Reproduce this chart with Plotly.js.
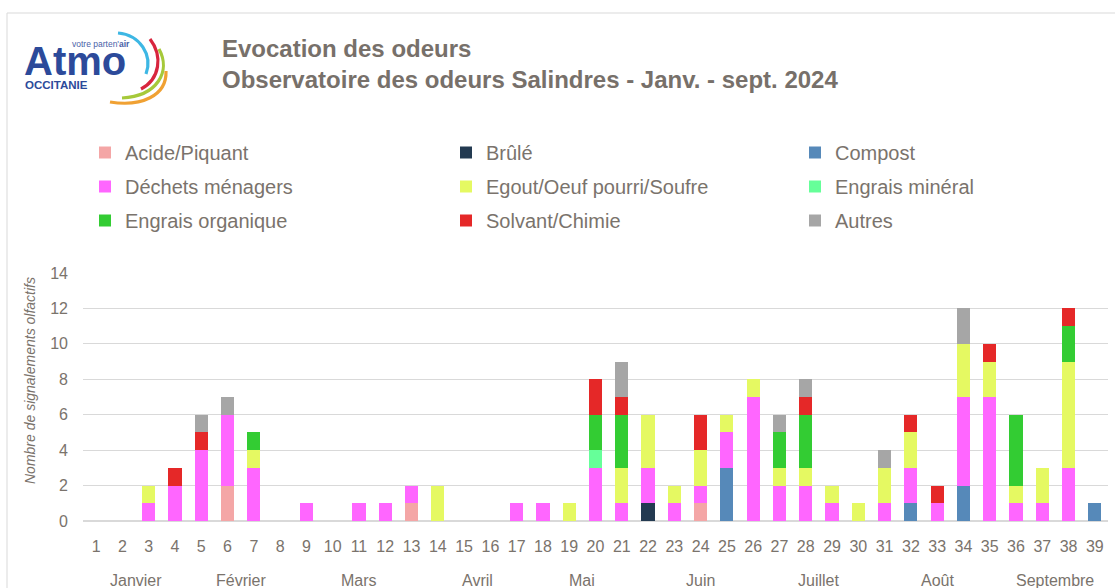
<!DOCTYPE html>
<html>
<head>
<meta charset="utf-8">
<script src="https://cdn.plot.ly/plotly-3.0.1.min.js"></script>
<style>html,body{margin:0;padding:0;background:#fff;}#chart{width:1115px;height:588px;}</style>
</head>
<body>
<div id="chart"></div>
<script>
// ---- Data ----
const weeks = ['1','2','3','4','5','6','7','8','9','10','11','12','13','14','15','16','17','18','19','20','21','22','23','24','25','26','27','28','29','30','31','32','33','34','35','36','37','38','39'];
const weekMonth = ['Janvier','Janvier','Janvier','Janvier','Février','Février','Février','Février','Mars','Mars','Mars','Mars','Mars','Avril','Avril','Avril','Avril','Mai','Mai','Mai','Mai','Juin','Juin','Juin','Juin','Juin','Juillet','Juillet','Juillet','Juillet','Août','Août','Août','Août','Août','Septembre','Septembre','Septembre','Septembre'];

const acide    = [0,0,0,0,0,2,0,0,0,0,0,0,1,0,0,0,0,0,0,0,0,0,0,1,0,0,0,0,0,0,0,0,0,0,0,0,0,0,0];
const brule    = [0,0,0,0,0,0,0,0,0,0,0,0,0,0,0,0,0,0,0,0,0,1,0,0,0,0,0,0,0,0,0,0,0,0,0,0,0,0,0];
const compost  = [0,0,0,0,0,0,0,0,0,0,0,0,0,0,0,0,0,0,0,0,0,0,0,0,3,0,0,0,0,0,0,1,0,2,0,0,0,0,1];
const dechets  = [0,0,1,2,4,4,3,0,1,0,1,1,1,0,0,0,1,1,0,3,1,2,1,1,2,7,2,2,1,0,1,2,1,5,7,1,1,3,0];
const egout    = [0,0,1,0,0,0,1,0,0,0,0,0,0,2,0,0,0,0,1,0,2,3,1,2,1,1,1,1,1,1,2,2,0,3,2,1,2,6,0];
const engMin   = [0,0,0,0,0,0,0,0,0,0,0,0,0,0,0,0,0,0,0,1,0,0,0,0,0,0,0,0,0,0,0,0,0,0,0,0,0,0,0];
const engOrg   = [0,0,0,0,0,0,1,0,0,0,0,0,0,0,0,0,0,0,0,2,3,0,0,0,0,0,2,3,0,0,0,0,0,0,0,4,0,2,0];
const solvant  = [0,0,0,1,1,0,0,0,0,0,0,0,0,0,0,0,0,0,0,2,1,0,0,2,0,0,0,1,0,0,0,1,1,0,1,0,0,1,0];
const autres   = [0,0,0,0,1,1,0,0,0,0,0,0,0,0,0,0,0,0,0,0,2,0,0,0,0,0,1,1,0,0,1,0,0,2,0,0,0,0,0];

const seriesNames = ['Acide/Piquant','Brûlé','Compost','Déchets ménagers','Egout/Oeuf pourri/Soufre','Engrais minéral','Engrais organique','Solvant/Chimie','Autres'];
const seriesValues = [acide, brule, compost, dechets, egout, engMin, engOrg, solvant, autres];
const seriesColors = ['#F4A6A6','#233A51','#5689B9','#FF66FF','#E5F962','#66FF99','#33CC33','#E52828','#A6A6A6'];

// ---- Layout helpers ----
const W = 1115, H = 588;
const M = {l: 83, r: 7, t: 273, b: 67};
const PW = W - M.l - M.r, PH = H - M.t - M.b;
const px = v => (v - M.l) / PW;
const py = v => (H - M.b - v) / PH;

const FONT = 'Arial, "Liberation Sans", sans-serif';
const txt = '#7A736C';
const legendIds = ['legend','legend2','legend3'];

const traces = seriesNames.map((name, i) => ({
  type: 'bar',
  name: name,
  x: weeks,
  y: seriesValues[i],
  marker: {color: seriesColors[i], line: {width: 0}},
  legend: legendIds[i % 3],
  legendgroup: 'g' + i,
  hovertemplate: name + ': %{y}<extra></extra>'
}));

const legendFont = {family: FONT, size: 20, color: txt};
const legendTop = py(133);
function mkLegend(xpx) {
  return {
    x: px(xpx), y: legendTop, xanchor: 'left', yanchor: 'top',
    orientation: 'v', traceorder: 'grouped', tracegroupgap: 5,
    font: legendFont, bgcolor: 'rgba(0,0,0,0)', borderwidth: 0
  };
}

// logo arcs (decoration)
const arcs = [
  {d: [[118,33],[140,35],[153,55],[146,74]], c: '#3DB7E4'},
  {d: [[150,39],[163,56],[160,79],[141,89]], c: '#D8253E'},
  {d: [[159,49],[171,71],[158,96],[122,98]], c: '#A6C93A'},
  {d: [[166,71],[167,96],[141,107],[110,102]], c: '#F0A133'}
];
const shapes = arcs.map(a => ({
  type: 'path', xref: 'paper', yref: 'paper',
  path: 'M' + px(a.d[0][0]) + ',' + py(a.d[0][1]) + ' C' +
        a.d.slice(1).map(p => px(p[0]) + ',' + py(p[1])).join(' '),
  line: {color: a.c, width: 3.2}
}));
// outer frame lines
shapes.push({type: 'line', xref: 'paper', yref: 'paper', x0: px(7), x1: px(1115), y0: py(13), y1: py(13), line: {color: '#D9D9D9', width: 1}});
shapes.push({type: 'line', xref: 'paper', yref: 'paper', x0: px(7), x1: px(7), y0: py(13), y1: py(588), line: {color: '#D9D9D9', width: 1}});

const annotations = [
  {text: '<b>Atmo</b>', xref: 'paper', yref: 'paper', x: px(22), y: py(61), xanchor: 'left', yanchor: 'middle', showarrow: false,
   font: {family: FONT, size: 40, color: '#2C4A9A'}},
  {text: 'votre parten\'<b>air</b>', xref: 'paper', yref: 'paper', x: px(70), y: py(44), xanchor: 'left', yanchor: 'middle', showarrow: false,
   font: {family: FONT, size: 8.5, color: '#4A5FA8'}},
  {text: '<b>OCCITANIE</b>', xref: 'paper', yref: 'paper', x: px(23), y: py(85), xanchor: 'left', yanchor: 'middle', showarrow: false,
   font: {family: FONT, size: 11.5, color: '#2C4A9A'}},
  {text: 'Nombre de signalements olfactifs', xref: 'paper', yref: 'paper', x: px(30), y: py(381), xanchor: 'center', yanchor: 'middle',
   textangle: -90, showarrow: false, font: {family: FONT, size: 14, color: txt, style: 'italic'}}
];

// month group labels centred under their weeks
const months = [];
weekMonth.forEach((m, i) => {
  let g = months.find(o => o.name === m);
  if (!g) { g = {name: m, idx: []}; months.push(g); }
  g.idx.push(i);
});
months.forEach(g => {
  const c = (g.idx[0] + g.idx[g.idx.length - 1]) / 2;
  annotations.push({text: g.name, xref: 'x', yref: 'paper', x: c, y: py(580), xanchor: 'center', yanchor: 'middle',
    showarrow: false, font: {family: FONT, size: 16, color: txt}});
});

const layout = {
  width: W, height: H,
  margin: M,
  paper_bgcolor: '#fff', plot_bgcolor: '#fff',
  font: {family: FONT, color: txt},
  title: {
    text: '<b>Evocation des odeurs</b><br><b>Observatoire des odeurs Salindres - Janv. - sept. 2024</b>',
    x: 222 / W, xref: 'container', xanchor: 'left',
    y: 1 - 57 / H, yref: 'container', yanchor: 'top',
    font: {family: FONT, size: 24, color: '#77706A'}
  },
  barmode: 'stack',
  bargap: 0.5,
  xaxis: {
    type: 'category',
    showgrid: false, zeroline: false, showline: false,
    ticks: '', ticklabelstandoff: 14,
    tickfont: {size: 16, color: txt},
    automargin: false, fixedrange: true
  },
  yaxis: {
    range: [0, 14], dtick: 2, tick0: 0,
    showgrid: true, gridcolor: '#D9D9D9', gridwidth: 1,
    zeroline: true, zerolinecolor: '#D9D9D9', zerolinewidth: 1.5,
    showline: false, ticks: '', ticklabelstandoff: 14,
    tickfont: {size: 16, color: txt},
    automargin: false, fixedrange: true
  },
  legend: mkLegend(85),
  legend2: mkLegend(446),
  legend3: mkLegend(795),
  shapes: shapes,
  annotations: annotations,
  showlegend: true
};

Plotly.newPlot('chart', traces, layout, {displayModeBar: false, staticPlot: true});
</script>
</body>
</html>
